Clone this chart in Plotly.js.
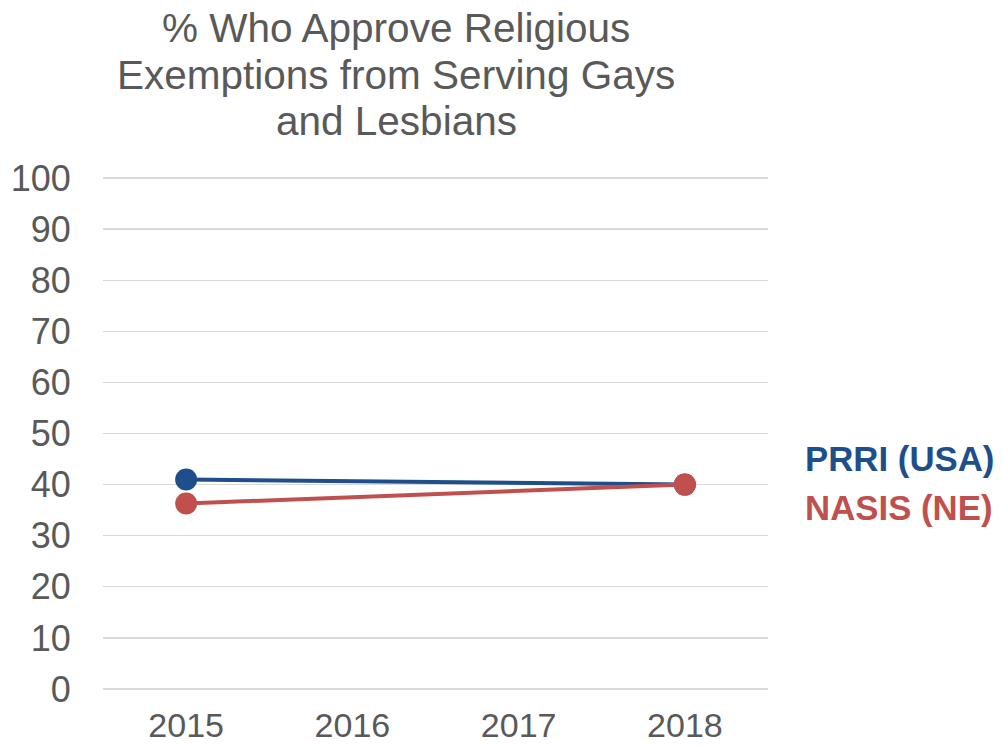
<!DOCTYPE html>
<html><head><meta charset="utf-8">
<script src="https://cdn.plot.ly/plotly-3.0.1.min.js"></script>
<style>html,body{margin:0;padding:0;background:#fff}#chart{width:1002px;height:747px}</style>
</head><body><div id="chart"></div>
<script>
const years = ['2015','2016','2017','2018'];
const prriYears = ['2015','2018'];
const prriValues = [41, 40];
const nasisYears = ['2015','2018'];
const nasisValues = [36.3, 40];
const yTicks = [0,10,20,30,40,50,60,70,80,90,100];
const seriesNames = ['PRRI (USA)', 'NASIS (NE)'];
const titleLines = ['% Who Approve Religious', 'Exemptions from Serving Gays', 'and Lesbians'];
const blue = '#1F4E8C', red = '#C0504D', grey = '#595959';

const traces = [
  {x: prriYears, y: prriValues, mode:'lines+markers', name: seriesNames[0],
   line:{color:blue, width:4}, marker:{color:blue, size:22}},
  {x: nasisYears, y: nasisValues, mode:'lines+markers', name: seriesNames[1],
   line:{color:red, width:4}, marker:{color:red, size:22}}
];
const font = 'Liberation Sans, Arial, sans-serif';
const titleY = [1.291, 1.199, 1.109];
const annotations = titleLines.map((t,i)=>({text:t, xref:'paper', yref:'paper', x:0.441, xanchor:'center',
  y:titleY[i], yanchor:'middle', showarrow:false, font:{family:font, size:40.5, color:grey}}));
annotations.push(
  {text:'<b>'+seriesNames[0]+'</b>', xref:'paper', yref:'paper', x:1.053, xanchor:'left', y:0.451, yanchor:'middle',
   showarrow:false, font:{family:font, size:34.8, color:blue}},
  {text:'<b>'+seriesNames[1]+'</b>', xref:'paper', yref:'paper', x:1.053, xanchor:'left', y:0.355, yanchor:'middle',
   showarrow:false, font:{family:font, size:34.8, color:red}}
);
const layout = {
  width:1002, height:747,
  margin:{l:103, r:234, t:177, b:58},
  paper_bgcolor:'#fff', plot_bgcolor:'#fff',
  showlegend:false,
  font:{family:font, color:grey},
  xaxis:{type:'category', categoryorder:'array', categoryarray:years, tickvals:years, ticktext:years,
    range:[-0.5,3.5], showgrid:false, zeroline:false, showline:false,
    ticks:'outside', ticklen:6, tickcolor:'rgba(0,0,0,0)',
    tickfont:{family:font, size:34, color:grey}},
  yaxis:{range:[0,100.2], tickvals:yTicks, showgrid:true, gridcolor:'#D9D9D9', gridwidth:1.3,
    zeroline:true, zerolinecolor:'#D9D9D9', zerolinewidth:1.3, showline:false,
    ticks:'outside', ticklen:24, tickcolor:'rgba(0,0,0,0)',
    tickfont:{family:font, size:36, color:grey}},
  annotations: annotations
};
Plotly.newPlot('chart', traces, layout, {staticPlot:true, displayModeBar:false});
</script></body></html>
